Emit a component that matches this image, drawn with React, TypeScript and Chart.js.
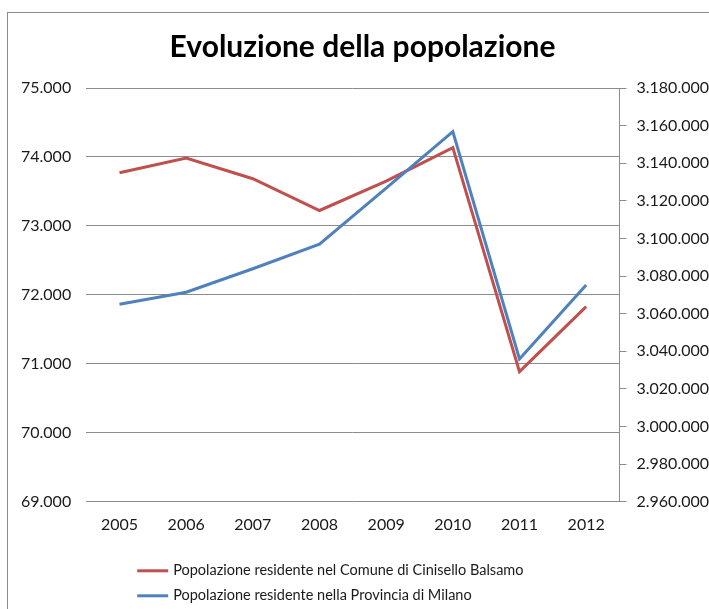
import React, { useEffect, useRef } from "react";
import { Chart, registerables } from "chart.js";

Chart.register(...registerables);

const years = ["2005", "2006", "2007", "2008", "2009", "2010", "2011", "2012"];
const cinisello = [73771, 73985, 73684, 73224, 73650, 74135, 70888, 71830];
const milano = [3065000, 3071400, 3083900, 3097000, 3126800, 3156800, 3035900, 3075200];
const labelCinisello = "Popolazione residente nel Comune di Cinisello Balsamo";
const labelMilano = "Popolazione residente nella Provincia di Milano";
const titleText = "Evoluzione della popolazione";
const leftMin = 69000, leftMax = 75000, leftStep = 1000;
const rightMin = 2960000, rightMax = 3180000, rightStep = 20000;

const RED = "#C0504D";
const BLUE = "#4F81BD";
const GRID = "#8c8c8c";
const TEXT = "#1a1a1a";
const FONT = "Lato";

const fmt = (v: number) => String(Math.round(v)).replace(/\B(?=(\d{3})+(?!\d))/g, ".");

const legendPlugin = {
  id: "customLegend",
  afterDraw(chart: any) {
    const { ctx, chartArea } = chart;
    const x0 = chartArea.left + 51;
    const y0 = chartArea.bottom + 69;
    ctx.save();
    ctx.font = `14.5px ${FONT}`;
    ctx.textBaseline = "middle";
    ctx.fillStyle = TEXT;
    chart.data.datasets.forEach((ds: any, i: number) => {
      const y = y0 + i * 25;
      ctx.strokeStyle = ds.borderColor;
      ctx.lineWidth = 3;
      ctx.beginPath();
      ctx.moveTo(x0, y);
      ctx.lineTo(x0 + 31, y);
      ctx.stroke();
      ctx.fillText(ds.label, x0 + 36, y);
    });
    ctx.restore();
  },
};

export default function App() {
  const ref = useRef<HTMLCanvasElement>(null);
  useEffect(() => {
    if (!ref.current) return;
    const chart = new Chart(ref.current, {
      type: "line",
      data: {
        labels: years,
        datasets: [
          {
            label: labelCinisello,
            data: cinisello,
            borderColor: RED,
            backgroundColor: RED,
            borderWidth: 3,
            pointRadius: 0,
            tension: 0,
            yAxisID: "y",
            order: 1,
          },
          {
            label: labelMilano,
            data: milano,
            borderColor: BLUE,
            backgroundColor: BLUE,
            borderWidth: 3,
            pointRadius: 0,
            tension: 0,
            yAxisID: "y1",
            order: 0,
          },
        ],
      },
      options: {
        responsive: false,
        animation: false,
        layout: { padding: { left: -2, right: -10, top: 0, bottom: 62 } },
        plugins: {
          legend: { display: false },
          tooltip: { enabled: false },
          title: {
            display: true,
            text: titleText,
            color: "#000",
            font: { family: FONT, size: 30, weight: "bold" },
            padding: { top: 16, bottom: 23 },
          },
        },
        scales: {
          x: {
            offset: true,
            grid: { display: false, drawTicks: false },
            border: { display: false },
            ticks: { color: TEXT, font: { family: FONT, size: 16 }, padding: 13, maxRotation: 0 },
          },
          y: {
            position: "left",
            min: leftMin,
            max: leftMax,
            grid: { color: GRID, lineWidth: 1, drawTicks: false },
            border: { display: false },
            ticks: {
              stepSize: leftStep,
              color: TEXT,
              font: { family: FONT, size: 16 },
              padding: 15,
              callback: (v: any) => fmt(Number(v)),
            },
          },
          y1: {
            position: "right",
            min: rightMin,
            max: rightMax,
            grid: { drawOnChartArea: false, color: GRID, tickLength: 7 },
            border: { display: true, color: GRID },
            ticks: {
              stepSize: rightStep,
              color: TEXT,
              font: { family: FONT, size: 16 },
              padding: 10,
              callback: (v: any) => fmt(Number(v)),
            },
          },
        },
      },
      plugins: [legendPlugin],
    });
    return () => chart.destroy();
  }, []);

  return (
    <div
      style={{
        position: "absolute",
        left: 7,
        top: 12,
        borderLeft: `1px solid ${GRID}`,
        borderTop: `1px solid ${GRID}`,
        background: "#fff",
      }}
    >
      <canvas ref={ref} width={701} height={596} style={{ display: "block" }} />
    </div>
  );
}
